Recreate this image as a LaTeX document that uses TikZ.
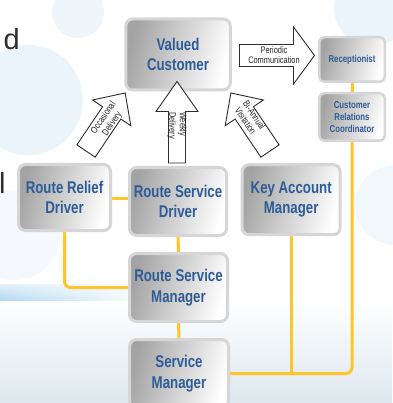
\documentclass[tikz,border=0pt]{standalone}
\usepackage{fontspec}
\newfontfamily\nfnt{Liberation Sans}[FakeStretch=0.78]
\newfontfamily\slidefnt{Liberation Sans}
\usetikzlibrary{calc,fadings}
\definecolor{txtblue}{RGB}{46,92,150}
\definecolor{gold}{RGB}{255,198,41}
\definecolor{arrline}{RGB}{45,45,45}
\definecolor{bubble}{RGB}{222,238,249}
\definecolor{band}{RGB}{160,208,238}
\pgfdeclarelayer{back}
\pgfdeclarelayer{lines}
\pgfsetlayers{back,lines,main}
\tikzset{
  boxbase/.style={rounded corners=7pt, draw=black!16, line width=3pt,
    left color=black!36, right color=white, shading angle=75,
    text=txtblue, align=center, inner sep=0pt},
  bigbox/.style={boxbase, font=\nfnt\bfseries\fontsize{17}{20.5}\selectfont},
  smallbox/.style={boxbase, rounded corners=5pt, line width=2.5pt,
    font=\nfnt\bfseries\fontsize{10}{12}\selectfont},
  arrowshape/.style={fill=white, draw=arrline, line width=0.9pt, line join=miter},
  arrowtext/.style={font=\nfnt\fontsize{9.5}{10.5}\selectfont, text=black!85, inner sep=0pt},
  link/.style={draw=gold, line width=3pt, rounded corners=6pt},
  slidetext/.style={font=\slidefnt\fontsize{29}{29}\selectfont, text=black!82, inner sep=0pt}
}
% #1 tail point, #2 angle, #3 length, #4 shaft half width, #5 head half width, #6 head length
\newcommand\fatarrow[6]{%
  \begin{scope}[shift={#1}, rotate=#2]
    \filldraw[arrowshape] (0,-#4) -- ({#3-#6},-#4) -- ({#3-#6},-#5) -- (#3,0)
      -- ({#3-#6},#5) -- ({#3-#6},#4) -- (0,#4) -- cycle;
  \end{scope}}
\begin{document}
\begin{tikzpicture}[x=1pt, y=-1pt]
\useasboundingbox (0,0) rectangle (392,403);
% background
\begin{pgfonlayer}{back}
  \fill[white] (0,0) rectangle (392,403);
  \fill[bubble, opacity=0.6] (28,100) circle (55);
  \fill[bubble, opacity=0.5] (78,12) circle (26);
  \fill[bubble, opacity=0.6] (372,8) circle (38);
  \fill[bubble, opacity=0.4] (395,205) circle (40);
  \fill[bubble, opacity=0.3] (15,235) circle (45);
  \shade[top color=white, bottom color={rgb,255:red,222;green,232;blue,239}] (0,298) rectangle (392,403);
  \shade[top color=band!30, bottom color=band!80, path fading=east] (0,284) rectangle (150,300);
\end{pgfonlayer}
% slide text fragments
\node[slidetext, anchor=base east] (fragd) at (20,50) {d};
\node[slidetext, anchor=base west] (fragl) at (-1,193) {l};
% boxes
\node[bigbox, minimum width=104.5pt, minimum height=71pt] (vc) at (178,54.5) {Valued\\Customer};
\node[bigbox, minimum width=92pt, minimum height=66pt] (rrd) at (64.5,197.5) {Route Relief\\Driver};
\node[bigbox, minimum width=97pt, minimum height=68pt] (rsd) at (178,201.5) {Route Service\\Driver};
\node[bigbox, minimum width=98pt, minimum height=70pt] (kam) at (291.2,199.7) {Key Account\\Manager};
\node[bigbox, minimum width=98pt, minimum height=68pt] (rsm) at (178.5,287.5) {Route Service\\Manager};
\node[bigbox, minimum width=99pt, minimum height=68pt] (sm) at (179,373.5) {Service\\Manager};
\node[smallbox, minimum width=65.5pt, minimum height=44.5pt] (rec) at (352,59.5) {Receptionist};
\node[smallbox, minimum width=65.5pt, minimum height=47.5pt] (crc) at (352,117) {Customer\\Relations\\Coordinator};
% connectors
\begin{pgfonlayer}{lines}
  \draw[link] (rrd.east |- 0,198) -- (rsd.west |- 0,198);
  \draw[link] (rrd.south) |- (rsm.west);
  \draw[link] (rsd.south) -- (rsm.north);
  \draw[link] (rsm.south) -- (sm.north);
  \draw[link] (rec.south) -- (crc.north);
  \draw[link] (crc.south) |- (sm.east);
  \draw[link] (kam.south) -- (kam.south |- sm.east);
\end{pgfonlayer}
% fat arrows
\fatarrow{(239.5,55.5)}{0}{75}{11}{28.5}{21}
\fatarrow{(177,163)}{90}{81.5}{8.5}{21}{30}
\fatarrow{(86,151)}{56}{70}{11}{23}{24}
\fatarrow{(270,151)}{124}{70}{11}{23}{24}
\node[arrowtext, align=center] (tper) at (274,55) {Periodic\\Communication};
\node[arrowtext, align=left, rotate=-90] (twk) at (177,125.5) {Weekly\\Delivery};
\node[arrowtext, align=center, rotate=56] (tocc) at (108,121) {Occasional\\Delivery};
\node[arrowtext, align=center, rotate=-56] (tbi) at (250,118) {Bi-Annual\\Visitation};
\end{tikzpicture}
\end{document}
